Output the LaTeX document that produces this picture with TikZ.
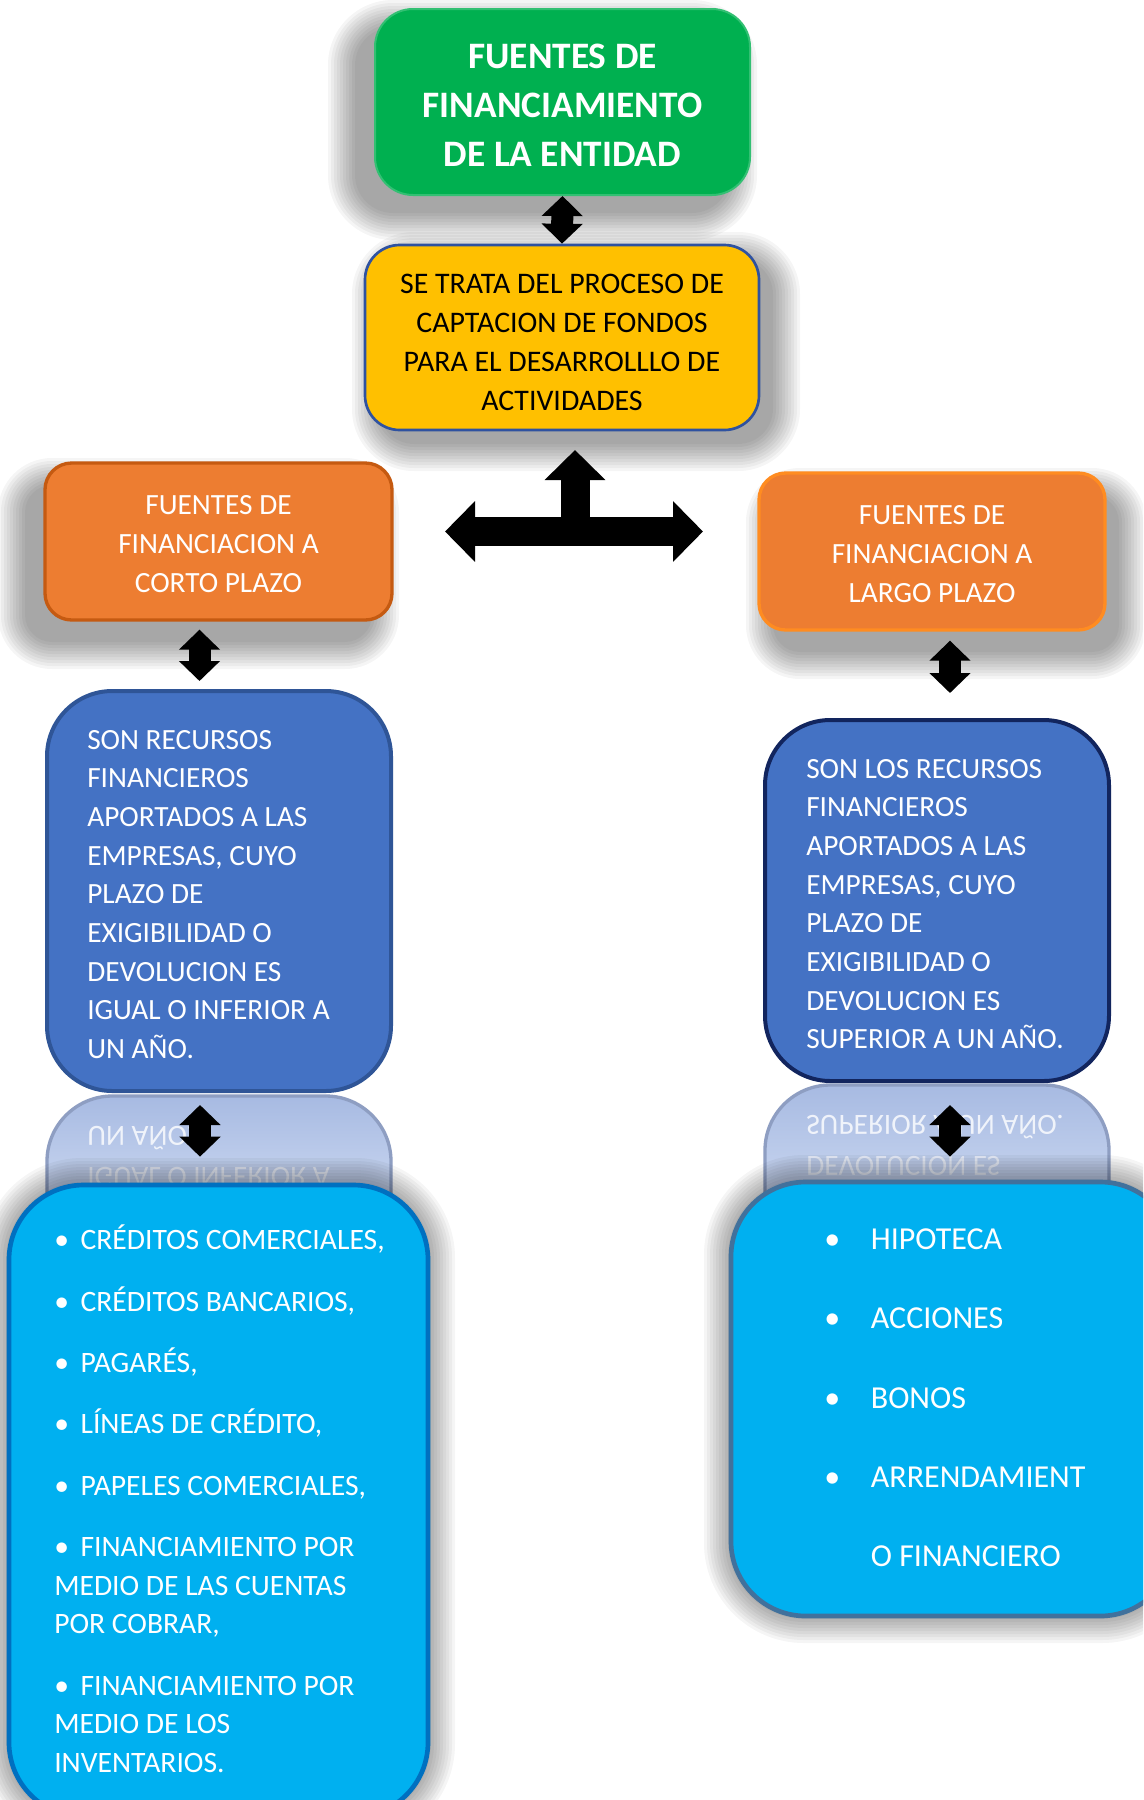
\documentclass[tikz,border=0pt]{standalone}
\usepackage{fontspec}
\setmainfont{Carlito}
\usetikzlibrary{arrows.meta,calc}
\definecolor{cGreen}{HTML}{00B050}
\definecolor{cYellow}{HTML}{FFC000}
\definecolor{cYellowBd}{HTML}{2F52A0}
\definecolor{cOrange}{HTML}{ED7D31}
\definecolor{cOrangeBdL}{HTML}{C55A11}
\definecolor{cOrangeBdR}{HTML}{FF8C21}
\definecolor{cBlue}{HTML}{4472C4}
\definecolor{cBlueBdL}{HTML}{2F5597}
\definecolor{cBlueBdR}{HTML}{12255E}
\definecolor{cCyan}{HTML}{00B0F0}
\definecolor{cCyanBdL}{HTML}{0070C0}
\definecolor{cCyanBdR}{HTML}{41719C}
\definecolor{cRefTop}{HTML}{A7BAE2}
\definecolor{cRefBot}{HTML}{CAD7F0}
\definecolor{cRefBd}{HTML}{8E9EC2}
\newcommand\softshadow[7]{%
  \foreach \k in {0,...,9}{%
    \pgfmathsetmacro\rr{(#5+\k*3)*0.75}%
    \fill[black, opacity=0.038, rounded corners=\rr pt]
      ({#1+#6-\k*3},{#2+#7-\k*3}) rectangle ({#3+#6+\k*3},{#4+#7+\k*3});
  }}
\tikzset{
  stip/.tip={Triangle[length=15pt 0 0, width=30pt 0 0]},
  ttip/.tip={Triangle[length=22.5pt 0 0, width=44.25pt 0 0]}}
\begin{document}
\begin{tikzpicture}[x=0.75pt,y=-0.75pt,
  reg/.style={font=\fontsize{22pt}{29pt}\selectfont},
  tx/.style={reg, text=white, inner sep=0pt, align=left},
  ctx/.style={inner sep=0pt, align=center},
  dbl/.style={line width=16.5pt, stip-stip},
  tarrow/.style={line width=21.75pt},
  bluebox/.style={fill=cBlue, line width=3pt, rounded corners=49pt, inner sep=0pt},
  orbox/.style={fill=cOrange, line width=2.5pt, rounded corners=20pt, inner sep=0pt},
  listbox/.style={fill=cCyan, line width=3.5pt, rounded corners=56pt, inner sep=0pt}]
\useasboundingbox (0,0) rectangle (1143,1800);
\clip (0,0) rectangle (1143,1800);
\fill[white] (0,0) rectangle (1143,1800);

% shadows
\softshadow{375}{9}{750}{195}{38}{-20}{18}
\softshadow{365}{245}{759}{430}{35}{14}{14}
\softshadow{45}{463}{392}{620}{27}{-20}{22}
\softshadow{759}{473}{1105}{630}{27}{14}{22}

% title and definition
\node[fill=cGreen, draw=cGreen!80!white, line width=1.5pt, rounded corners=28.5pt,
  minimum width=281.25pt, minimum height=139.5pt, inner sep=0pt] (title) at (562.5,102) {};
\node[ctx, text=white, font=\bfseries\fontsize{28pt}{36.75pt}\selectfont] (titleT)
  at ($(title.center)+(0,3)$) {FUENTES DE\\FINANCIAMIENTO\\DE LA ENTIDAD};
\node[fill=cYellow, draw=cYellowBd, line width=2pt, rounded corners=26pt,
  minimum width=295.5pt, minimum height=138.75pt, inner sep=0pt] (def) at (562,337.5) {};
\node[ctx, font=\fontsize{22.4pt}{29.4pt}\selectfont] (defT) at ($(def.center)+(0,5)$)
  {SE TRATA DEL PROCESO DE\\CAPTACION DE FONDOS\\PARA EL DESARROLLLO DE\\ACTIVIDADES};

% orange boxes
\node[orbox, draw=cOrangeBdL, minimum width=260.25pt, minimum height=117.75pt] (orL) at (218.5,541.5) {};
\node[ctx, reg, text=white] (orLT) at ($(orL.center)+(0,2.5)$) {FUENTES DE\\FINANCIACION A\\CORTO PLAZO};
\node[orbox, draw=cOrangeBdR, minimum width=259.5pt, minimum height=117.75pt] (orR) at (932,551.5) {};
\node[ctx, reg, text=white] (orRT) at ($(orR.center)+(0,2.5)$) {FUENTES DE\\FINANCIACION A\\LARGO PLAZO};

% blue boxes
\node[bluebox, draw=cBlueBdL, minimum width=258pt, minimum height=300pt] (defL) at (219,891) {};
\node[tx] (defLt) at (87,894.5) [anchor=west]
  {SON RECURSOS\\FINANCIEROS\\APORTADOS A LAS\\EMPRESAS, CUYO\\PLAZO DE\\EXIGIBILIDAD O\\DEVOLUCION ES\\IGUAL O INFERIOR A\\UN AÑO.};
\node[bluebox, draw=cBlueBdR, minimum width=258pt, minimum height=270.75pt] (defR) at (937,900.5) {};
\node[tx] (defRt) at (806,904) [anchor=west]
  {SON LOS RECURSOS\\FINANCIEROS\\APORTADOS A LAS\\EMPRESAS, CUYO\\PLAZO DE\\EXIGIBILIDAD O\\DEVOLUCION ES\\SUPERIOR A UN AÑO.};

% reflections
\begin{scope}
  \clip[rounded corners=49pt] (47,1096) rectangle (391,1400);
  \fill[top color=cRefTop, bottom color=cRefBot] (47,1096) rectangle (391,1200);
  \node[tx, text opacity=0.8] (rfLa) at (87,1138) [anchor=west] {\scalebox{1}[-1]{UN AÑO.}};
  \node[tx, text opacity=0.6] (rfLb) at (87,1177) [anchor=west] {\scalebox{1}[-1]{IGUAL O INFERIOR A}};
\end{scope}
\draw[cRefBd, line width=2.5pt, rounded corners=49pt] (47,1260) -- (47,1096) -- (391,1096) -- (391,1260);
\begin{scope}
  \clip[rounded corners=49pt] (765,1085) rectangle (1109,1400);
  \fill[top color=cRefTop, bottom color=cRefBot] (765,1085) rectangle (1109,1200);
  \node[tx, text opacity=0.8] (rfRa) at (806,1127) [anchor=west] {\scalebox{1}[-1]{SUPERIOR A UN AÑO.}};
  \node[tx, text opacity=0.6] (rfRb) at (806,1166) [anchor=west] {\scalebox{1}[-1]{DEVOLUCION ES}};
\end{scope}
\draw[cRefBd, line width=2.5pt, rounded corners=49pt] (765,1260) -- (765,1085) -- (1109,1085) -- (1109,1260);

% list boxes
\softshadow{9}{1185}{428}{1817}{73}{0}{0}
\softshadow{731}{1182}{1175}{1616}{73}{0}{0}
\node[listbox, draw=cCyanBdL, minimum width=314.25pt, minimum height=474pt] (listL) at (218.5,1501) {};
\node[tx, font=\fontsize{22.2pt}{29pt}\selectfont] (listLt) at (54,1499) [anchor=west]
  {•\hspace{8.7pt}CRÉDITOS COMERCIALES,\\[17pt]
   •\hspace{8.7pt}CRÉDITOS BANCARIOS,\\[17pt]
   •\hspace{8.7pt}PAGARÉS,\\[17pt]
   •\hspace{8.7pt}LÍNEAS DE CRÉDITO,\\[17pt]
   •\hspace{8.7pt}PAPELES COMERCIALES,\\[17pt]
   •\hspace{8.7pt}FINANCIAMIENTO POR\\MEDIO DE LAS CUENTAS\\POR COBRAR,\\[17pt]
   •\hspace{8.7pt}FINANCIAMIENTO POR\\MEDIO DE LOS\\INVENTARIOS.};
\node[listbox, draw=cCyanBdR, minimum width=333pt, minimum height=325.5pt] (listR) at (953,1399) {};
\node[tx, font=\fontsize{24pt}{59.5pt}\selectfont] (listRt) at (824,1398) [anchor=west]
  {•\hspace{23pt}HIPOTECA\\•\hspace{23pt}ACCIONES\\•\hspace{23pt}BONOS\\•\hspace{23pt}ARRENDAMIENT\\\phantom{•}\hspace{23pt}O FINANCIERO};

% connectors
\draw[dbl] (title.south) -- (def.north);
\coordinate (aL) at ($(orL.south)+(-19,0)$);
\draw[dbl, shorten <=6pt, shorten >=6pt] (aL) -- (aL |- defL.north);
\coordinate (aR) at ($(orR.south)+(18,0)$);
\draw[dbl, shorten <=6.75pt, shorten >=18.75pt] (aR) -- (aR |- defR.north);
\coordinate (bL) at ($(defL.south)+(-19,0)$);
\draw[dbl, shorten <=9pt, shorten >=19.5pt] (bL) -- (bL |- listL.north);
\coordinate (bR) at ($(defR.south)+(13,0)$);
\draw[dbl, shorten <=16.5pt, shorten >=17.25pt] (bR) -- (bR |- listR.north);

\coordinate (tL) at (445,531.5);
\coordinate (tR) at (703,531.5);
\coordinate (tJ) at (575,531.5);
\coordinate (tU) at (575,450);
\draw[tarrow, ttip-ttip] (tL) -- (tR);
\draw[tarrow, -ttip] (tJ) -- (tU);
\end{tikzpicture}
\end{document}
